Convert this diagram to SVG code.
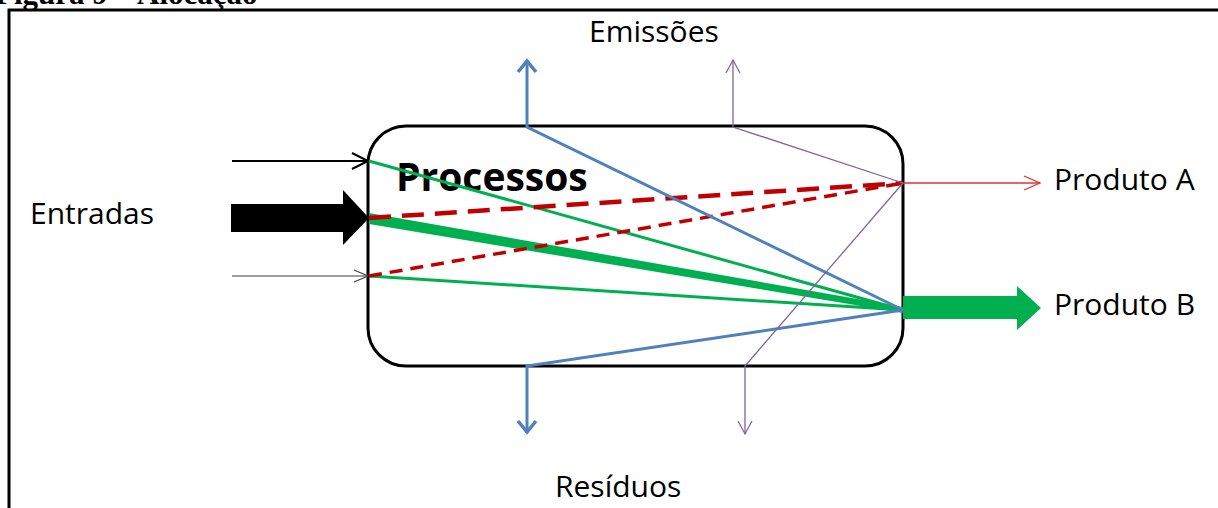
<svg xmlns="http://www.w3.org/2000/svg" width="1218" height="508" viewBox="0 0 1218 508">
  <style>
    .lbl { font-family: "Open Sans", "Liberation Sans", sans-serif; font-size: 30px; fill: #000; }
    .title { font-family: "Liberation Serif", serif; font-weight: bold; font-size: 31px; fill: #000; }
    .frame { stroke: #000; stroke-width: 3; fill: none; }
    .green { stroke: #00b050; fill: none; }
    .blue { stroke: #4f81bd; fill: none; stroke-width: 3; }
    .purple { stroke: #8064a2; fill: none; stroke-width: 1.3; }
    .red { stroke: #c00000; fill: none; }
  </style>
  <defs>
    <marker id="openBlack" markerUnits="userSpaceOnUse" markerWidth="24" markerHeight="24" refX="20" refY="12" orient="auto">
      <path d="M4,4 L20,12 L4,20" fill="none" stroke="#000" stroke-width="2"/>
    </marker>
    <marker id="openGrey" markerUnits="userSpaceOnUse" markerWidth="24" markerHeight="24" refX="20" refY="12" orient="auto">
      <path d="M6,6 L20,12 L6,18" fill="none" stroke="#404040" stroke-width="1.2"/>
    </marker>
    <marker id="openRed" markerUnits="userSpaceOnUse" markerWidth="24" markerHeight="24" refX="20" refY="12" orient="auto">
      <path d="M4,5 L20,12 L4,19" fill="none" stroke="#e03030" stroke-width="1.3"/>
    </marker>
    <marker id="openBlue" markerUnits="userSpaceOnUse" markerWidth="24" markerHeight="24" refX="20" refY="12" orient="auto">
      <path d="M8,3 L19,12 L8,21" fill="none" stroke="#4f81bd" stroke-width="3.5"/>
    </marker>
    <marker id="openPurple" markerUnits="userSpaceOnUse" markerWidth="24" markerHeight="24" refX="20" refY="12" orient="auto">
      <path d="M7,5 L20,12 L7,19" fill="none" stroke="#8064a2" stroke-width="1.3"/>
    </marker>
  </defs>

  <!-- figure caption, running off the top of the page -->
  <text class="title" x="-5" y="4">Figura 9 – Alocação</text>

  <!-- page frame -->
  <path class="frame" d="M9,508 L9,10 L1218,10"/>

  <!-- process box -->
  <g id="processos">
    <rect x="368" y="126" width="535" height="240" rx="38" ry="38" fill="#fff" stroke="#000" stroke-width="3"/>
    <text x="396" y="191" font-family="'Open Sans', 'Liberation Sans', sans-serif" font-weight="bold" font-size="39" fill="#000">Processos</text>
  </g>

  <g id="entradas">
    <text class="lbl" x="30" y="224">Entradas</text>
  </g>
  <g id="emissoes">
    <text class="lbl" x="589" y="42">Emissões</text>
  </g>
  <g id="residuos">
    <text class="lbl" x="555" y="497">Resíduos</text>
  </g>
  <g id="produto-a">
    <text class="lbl" x="1054" y="190">Produto A</text>
  </g>
  <g id="produto-b">
    <text class="lbl" x="1054" y="315">Produto B</text>
  </g>

  <g id="connectors">
    <!-- input arrows -->
    <line x1="232" y1="161" x2="368" y2="161" stroke="#000" stroke-width="2" marker-end="url(#openBlack)"/>
    <path d="M231,204 L343,204 L343,190 L369,218 L343,245 L343,232 L231,232 Z" fill="#000"/>
    <line x1="232" y1="276" x2="368" y2="276" stroke="#404040" stroke-width="1.2" marker-end="url(#openGrey)"/>

    <!-- allocation to product B (green) -->
    <line class="green" x1="369" y1="161" x2="903" y2="310" stroke-width="3"/>
    <path d="M369,213 L369,224 L903,313 L903,307 Z" fill="#00b050"/>
    <line class="green" x1="369" y1="276" x2="903" y2="310" stroke-width="3"/>

    <!-- allocation to product A (red dashed) -->
    <line class="red" x1="369" y1="218" x2="903" y2="183" stroke-width="4.5" stroke-dasharray="22,11"/>
    <line class="red" x1="369" y1="276" x2="903" y2="183" stroke-width="3.5" stroke-dasharray="13,8"/>

    <!-- blue: emissions and residues of product B -->
    <path class="blue" d="M903,310 L527,127 L527,60" marker-end="url(#openBlue)"/>
    <path class="blue" d="M903,310 L527,366 L527,433" marker-end="url(#openBlue)"/>

    <!-- purple: emissions and residues of product A -->
    <path class="purple" d="M903,183 L733,127 L733,60" marker-end="url(#openPurple)"/>
    <path class="purple" d="M903,183 L745,366 L745,434" marker-end="url(#openPurple)"/>

    <!-- outputs -->
    <line x1="903" y1="183" x2="1040" y2="183" stroke="#e03030" stroke-width="1.3" marker-end="url(#openRed)"/>
    <path d="M903,296 L1017,296 L1017,286 L1041,308 L1017,330 L1017,319 L903,319 Z" fill="#00b050"/>
  </g>
</svg>
